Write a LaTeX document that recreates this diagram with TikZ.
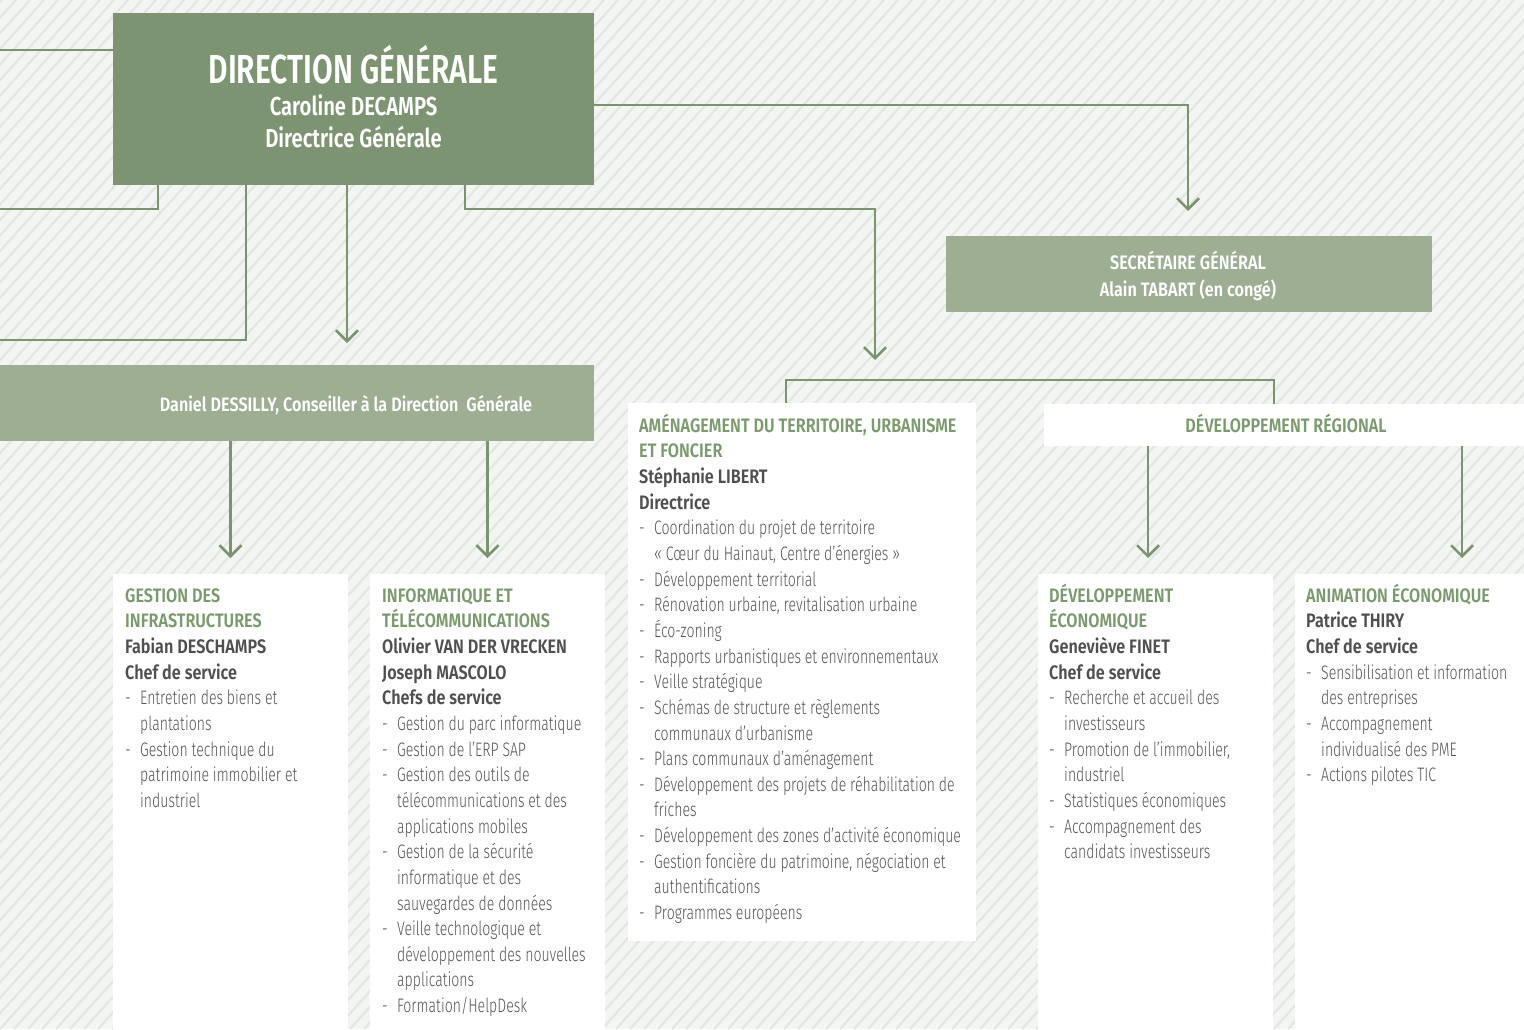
\documentclass[tikz,border=0pt]{standalone}
\usepackage{fontspec}
\usetikzlibrary{arrows.meta,calc}
\newfontfamily\fL{Fira Sans Light}[FakeStretch=0.72]
\newfontfamily\fB{Fira Sans SemiBold}[FakeStretch=0.83]
\newfontfamily\fBh{Fira Sans SemiBold}[FakeStretch=0.78]
\newfontfamily\fBt{Fira Sans SemiBold}[FakeStretch=0.74]
\definecolor{dgreen}{HTML}{7D9472}
\definecolor{lgreen}{HTML}{9DAE93}
\definecolor{lnk}{HTML}{7B9470}
\definecolor{ttlg}{HTML}{7B9A6D}
\definecolor{bgc}{HTML}{F3F5F2}
\definecolor{hatchc}{HTML}{E3E7E1}
\definecolor{nmc}{HTML}{4F4F4F}
\definecolor{itc}{HTML}{555555}
\newcommand{\bxttl}[1]{{\fB\color{ttlg}#1}}
\newcommand{\bxname}[1]{{\fB\color{nmc}#1}}
\newcommand{\bxitem}[1]{\makebox[15pt][l]{-}#1}
\newcommand{\bxcont}[1]{\hspace*{15pt}#1}
\newcommand{\bxstrut}{\rule{0pt}{19pt}}
\begin{document}
\begin{tikzpicture}[x=1pt,y=-1pt,
  link/.style={draw=lnk, line width=2.5pt},
  arr/.style={link, -{Straight Barb[length=11pt,width=22pt]}},
  darkbox/.style={fill=dgreen, inner sep=0pt, outer sep=0pt, anchor=north west},
  lightbox/.style={fill=lgreen, inner sep=0pt, outer sep=0pt, anchor=north west},
  whitebox/.style={fill=white, inner sep=0pt, outer sep=0pt, anchor=north west},
  txt/.style={anchor=north west, inner sep=0pt, align=left, text=itc,
    font=\fL\fontsize{19.5}{25.65}\selectfont},
  headtxt/.style={anchor=base, inner sep=0pt, text=white,
    font=\fB\fontsize{19.5}{25.65}\selectfont}]
\useasboundingbox (0,0) rectangle (1524,1029);
% hatched background
\fill[bgc] (0,0) rectangle (1524,1029);
\begin{scope}
  \clip (0,0) rectangle (1524,1029);
  \foreach \i in {-70,...,112}
    \draw[hatchc, line width=2.2pt] (\i*14,1029) -- ++(926,-1029);
\end{scope}

% boxes
\node[darkbox, minimum width=481pt, minimum height=172pt] (dg) at (113,13) {};
\node[lightbox, minimum width=486pt, minimum height=76pt] (sg) at (946,236) {};
\node[lightbox, minimum width=594pt, minimum height=76pt] (dan) at (0,365) {};
\node[whitebox, minimum width=235pt, minimum height=460pt] (gest) at (113,574) {};
\node[whitebox, minimum width=235pt, minimum height=460pt] (info) at (370,574) {};
\node[whitebox, minimum width=348pt, minimum height=538pt] (amen) at (628,403) {};
\node[whitebox, minimum width=486pt, minimum height=42pt] (devreg) at (1044,404) {};
\node[whitebox, minimum width=235pt, minimum height=460pt] (deveco) at (1038,574) {};
\node[whitebox, minimum width=235pt, minimum height=460pt] (anim) at (1295,574) {};

% header texts
\node[headtxt, font=\fBt\fontsize{40.5}{40.5}\selectfont] (dgt1) at (353.5,83) {DIRECTION GÉNÉRALE};
\node[headtxt, font=\fBh\fontsize{26}{26}\selectfont] (dgt2) at (353.5,115) {Caroline DECAMPS};
\node[headtxt, font=\fBh\fontsize{26}{26}\selectfont] (dgt3) at (353.5,147) {Directrice Générale};
\node[headtxt] (sgt1) at (1188,269) {SECRÉTAIRE GÉNÉRAL};
\node[headtxt] (sgt2) at (1188,296) {Alain TABART (en congé)};
\node[headtxt] (dant) at (346,411) {Daniel DESSILLY, Conseiller à la Direction~~Générale};
\node[headtxt, text=ttlg] (devregt) at (1286,432) {DÉVELOPPEMENT RÉGIONAL};

% service texts
\node[txt] (gestt) at (125,583) {\bxstrut\bxttl{GESTION DES}\\
\bxttl{INFRASTRUCTURES}\\
\bxname{Fabian DESCHAMPS}\\
\bxname{Chef de service}\\
\bxitem{Entretien des biens et}\\
\bxcont{plantations}\\
\bxitem{Gestion technique du}\\
\bxcont{patrimoine immobilier et}\\
\bxcont{industriel}};

\node[txt] (infot) at (382,583) {\bxstrut\bxttl{INFORMATIQUE ET}\\
\bxttl{TÉLÉCOMMUNICATIONS}\\
\bxname{Olivier VAN DER VRECKEN}\\
\bxname{Joseph MASCOLO}\\
\bxname{Chefs de service}\\
\bxitem{Gestion du parc informatique}\\
\bxitem{Gestion de l’ERP SAP}\\
\bxitem{Gestion des outils de}\\
\bxcont{télécommunications et des}\\
\bxcont{applications mobiles}\\
\bxitem{Gestion de la sécurité}\\
\bxcont{informatique et des}\\
\bxcont{sauvegardes de données}\\
\bxitem{Veille technologique et}\\
\bxcont{développement des nouvelles}\\
\bxcont{applications}\\
\bxitem{Formation/HelpDesk}};

\node[txt] (ament) at (639,413) {\bxstrut\bxttl{AMÉNAGEMENT DU TERRITOIRE, URBANISME}\\
\bxttl{ET FONCIER}\\
\bxname{Stéphanie LIBERT}\\
\bxname{Directrice}\\
\bxitem{Coordination du projet de territoire}\\
\bxcont{«~Cœur du Hainaut, Centre d’énergies~»}\\
\bxitem{Développement territorial}\\
\bxitem{Rénovation urbaine, revitalisation urbaine}\\
\bxitem{Éco-zoning}\\
\bxitem{Rapports urbanistiques et environnementaux}\\
\bxitem{Veille stratégique}\\
\bxitem{Schémas de structure et règlements}\\
\bxcont{communaux d’urbanisme}\\
\bxitem{Plans communaux d’aménagement}\\
\bxitem{Développement des projets de réhabilitation de}\\
\bxcont{friches}\\
\bxitem{Développement des zones d’activité économique}\\
\bxitem{Gestion foncière du patrimoine, négociation et}\\
\bxcont{authentifications}\\
\bxitem{Programmes européens}};

\node[txt] (devecot) at (1049,583) {\bxstrut\bxttl{DÉVELOPPEMENT}\\
\bxttl{ÉCONOMIQUE}\\
\bxname{Geneviève FINET}\\
\bxname{Chef de service}\\
\bxitem{Recherche et accueil des}\\
\bxcont{investisseurs}\\
\bxitem{Promotion de l’immobilier,}\\
\bxcont{industriel}\\
\bxitem{Statistiques économiques}\\
\bxitem{Accompagnement des}\\
\bxcont{candidats investisseurs}};

\node[txt] (animt) at (1306,583) {\bxstrut\bxttl{ANIMATION ÉCONOMIQUE}\\
\bxname{Patrice THIRY}\\
\bxname{Chef de service}\\
\bxitem{Sensibilisation et information}\\
\bxcont{des entreprises}\\
\bxitem{Accompagnement}\\
\bxcont{individualisé des PME}\\
\bxitem{Actions pilotes TIC}};

% connector bends and free ends
\coordinate (offA) at (0,50);
\coordinate (offB) at (0,209);
\coordinate (offC) at (0,340);
\coordinate (kB) at (158,209);
\coordinate (kC) at (246,340);
\coordinate (tipDan) at (347,343);
\coordinate (kD) at (465,209);
\coordinate (kE) at (875,209);
\coordinate (tipAm) at (875,360);
\coordinate (kF) at (1188,105);
\coordinate (tipSg) at (1188,211);
\coordinate (brL) at (786,380);
\coordinate (brR) at (1274,380);
\coordinate (tipEco) at (1148,558);
\coordinate (tipAnim) at (1462,558);

% connectors
\draw[link] (dg.west |- offA) -- (offA);
\draw[link] (dg.south -| kB) -- (kB) -- (offB);
\draw[link] (dg.south -| kC) -- (kC) -- (offC);
\draw[arr] (dg.south -| tipDan) -- (tipDan);
\draw[arr] (dg.south -| kD) -- (kD) -- (kE) -- (tipAm);
\draw[arr] (dg.east |- kF) -- (kF) -- (tipSg);
\draw[link] (amen.north -| brL) -- (brL) -- (brR) -- (devreg.north -| brR);
\draw[arr] (dan.south -| gest.north) -- ($(gest.north)+(0,-16)$);
\draw[arr] (dan.south -| info.north) -- ($(info.north)+(0,-16)$);
\draw[arr] (devreg.south -| tipEco) -- (tipEco);
\draw[arr] (devreg.south -| tipAnim) -- (tipAnim);
\end{tikzpicture}
\end{document}
